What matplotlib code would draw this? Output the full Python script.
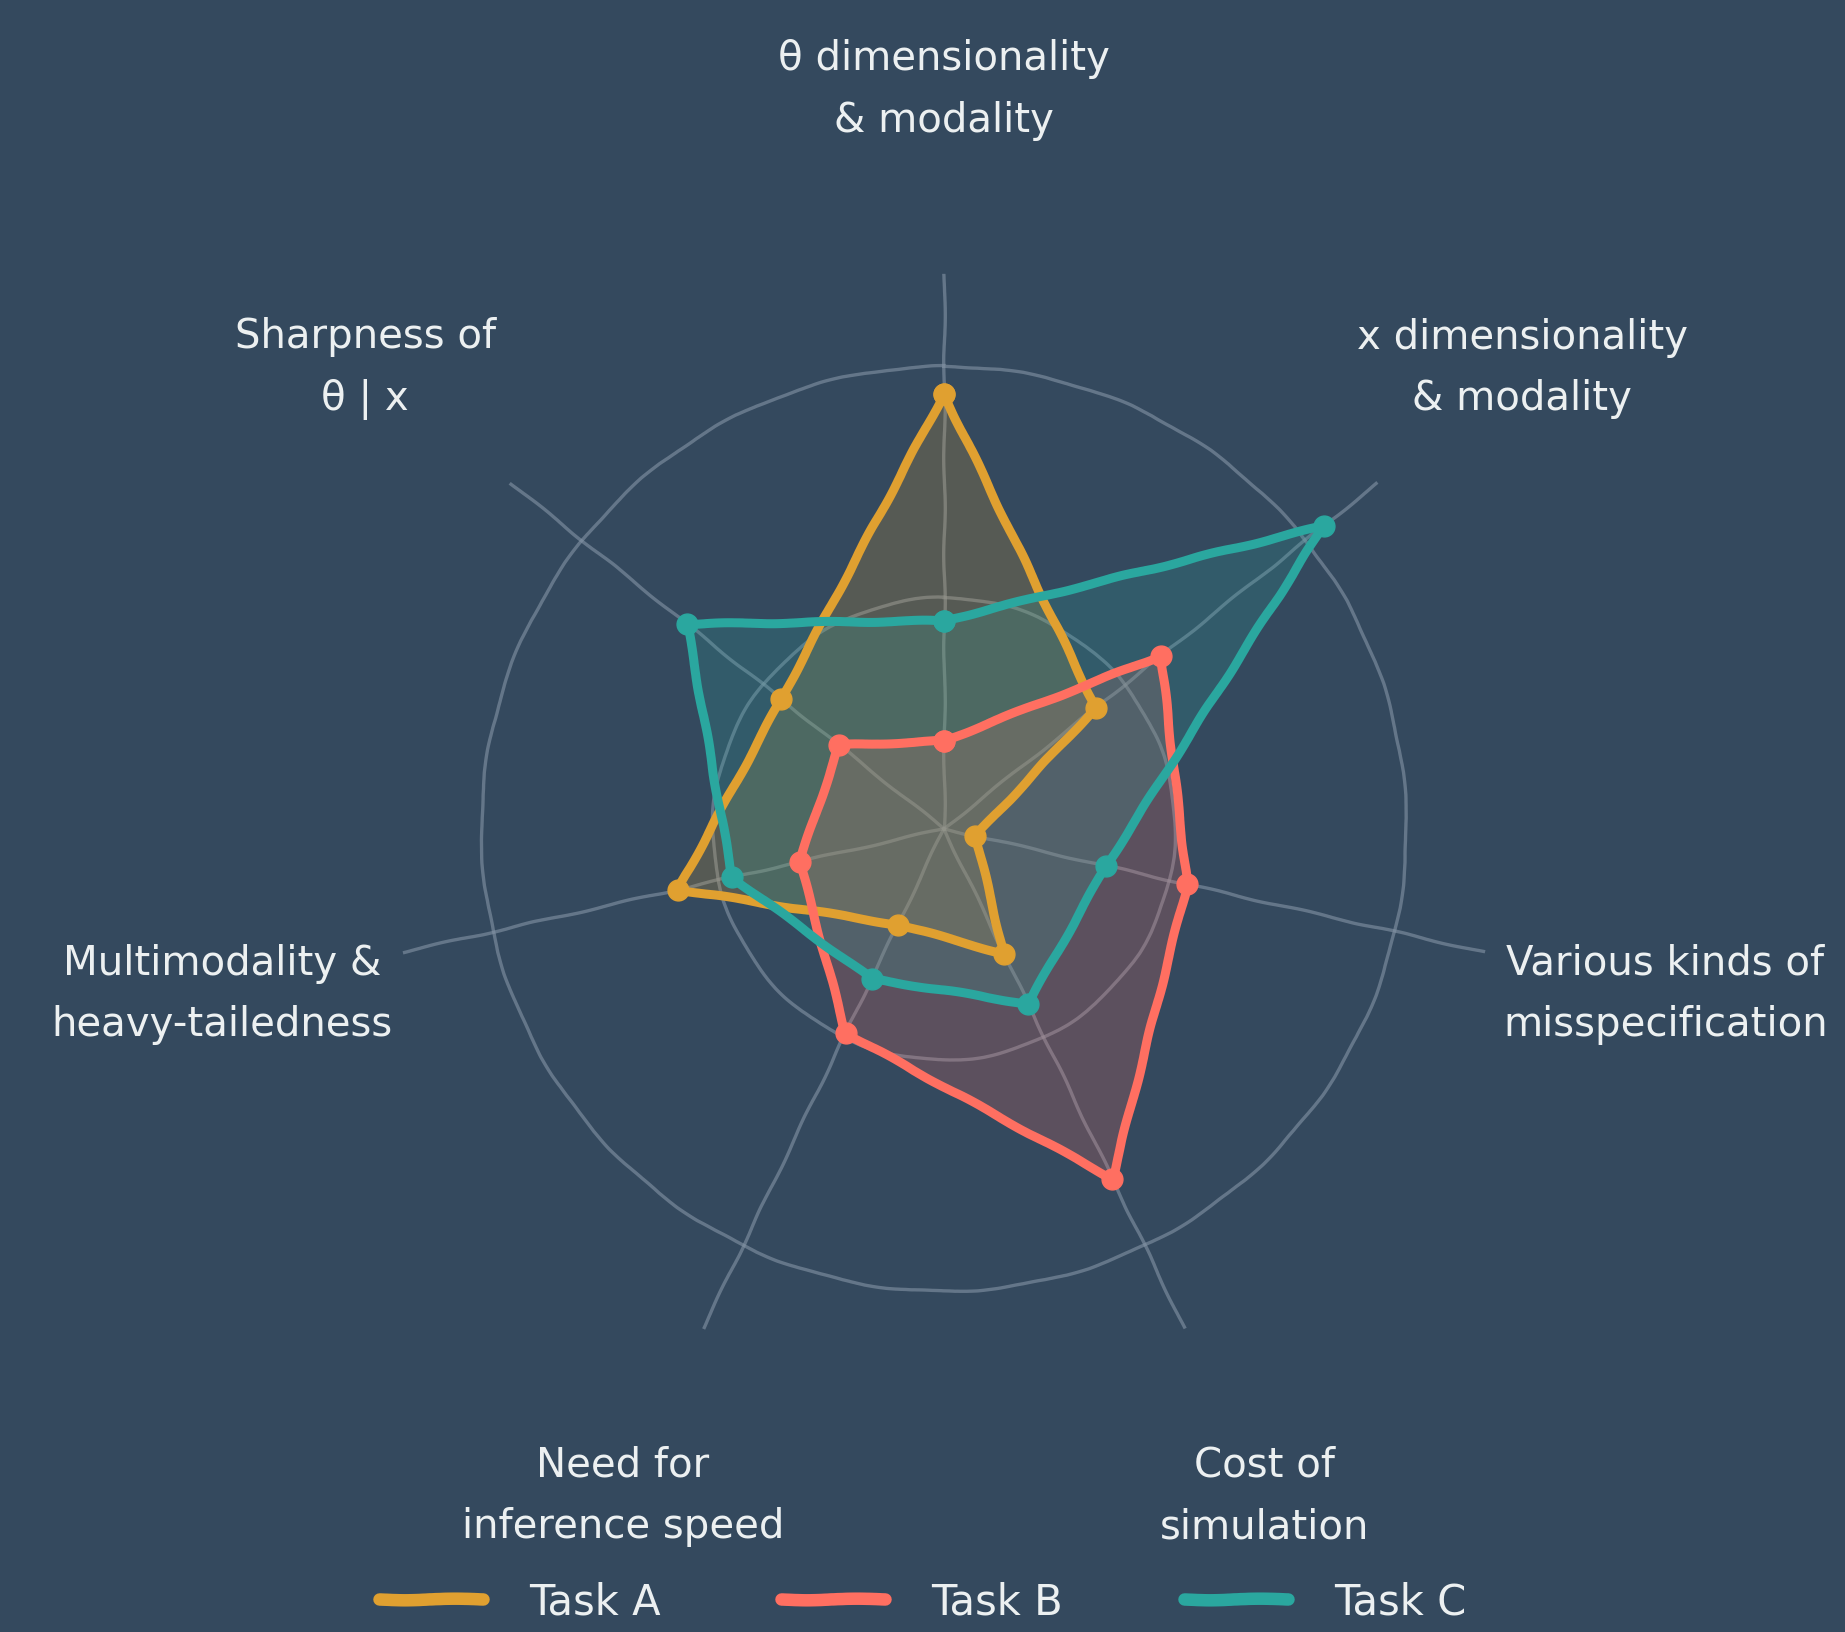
import numpy as np
import matplotlib
matplotlib.use("Agg")
import matplotlib.pyplot as plt
from matplotlib.lines import Line2D

# axes of the radar, clockwise from the top
categories = [
    "θ dimensionality\n& modality",
    "x dimensionality\n& modality",
    "Various kinds of\nmisspecification",
    "Cost of\nsimulation",
    "Need for\ninference speed",
    "Multimodality &\nheavy-tailedness",
    "Sharpness of\nθ | x",
]
task_names = ["Task A", "Task B", "Task C"]
task_a = [0.94, 0.42, 0.07, 0.30, 0.23, 0.59, 0.45]
task_b = [0.19, 0.60, 0.54, 0.84, 0.49, 0.32, 0.29]
task_c = [0.45, 1.05, 0.36, 0.42, 0.36, 0.47, 0.71]

bg = "#34495E"
fg = "#ECF0F1"
colors = ["#E0A030", "#FF6F61", "#2AA79F"]


def main():
    np.random.seed(3)
    with plt.xkcd(scale=0.8, length=110, randomness=2):
        plt.rcParams["path.effects"] = []
        plt.rcParams["font.family"] = ["DejaVu Sans"]

        fig = plt.figure(figsize=(18.45, 16.33), dpi=100, facecolor=bg)
        fig.patch.set_sketch_params(None)  # no wobbly edge on the background
        ax = fig.add_axes([0.2108, 0.152, 0.6016, 0.6797], projection="polar")
        ax.set_facecolor(bg)
        ax.set_theta_offset(np.pi / 2)
        ax.set_theta_direction(-1)

        n = len(categories)
        angles = np.arange(n) * 2 * np.pi / n

        ax.set_ylim(0, 1.2)
        ax.set_rgrids([0.5, 1.0], labels=[])
        ax.set_xticks(angles)
        ax.set_xticklabels([])
        ax.tick_params(length=0)
        ax.spines["polar"].set_visible(False)
        ax.grid(True, color="#8595A6", alpha=0.6, linewidth=2.4)

        for ang, lab in zip(angles, categories):
            ax.text(ang, 1.6, lab, ha="center", va="center", fontsize=29,
                    color=fg, clip_on=False, linespacing=1.7)

        closed = np.append(angles, angles[0])
        for vals, col in zip([task_a, task_b, task_c], colors):
            v = np.append(vals, vals[0])
            ax.fill(closed, v, color=col, alpha=0.2, zorder=2)
            ax.plot(closed, v, color=col, lw=6.5, marker="o", ms=15, zorder=3,
                    solid_capstyle="round")

        handles = [Line2D([0], [0], color=c, lw=9, solid_capstyle="round") for c in colors]
        leg = fig.legend(handles, task_names, loc="lower center", bbox_to_anchor=(0.5, -0.017),
                         ncol=3, frameon=False, fontsize=30, handlelength=2.5,
                         handletextpad=1.1, columnspacing=2.9)
        for t in leg.get_texts():
            t.set_color(fg)

        fig.savefig("out.png", dpi=100, facecolor=bg)


if __name__ == "__main__":
    main()
